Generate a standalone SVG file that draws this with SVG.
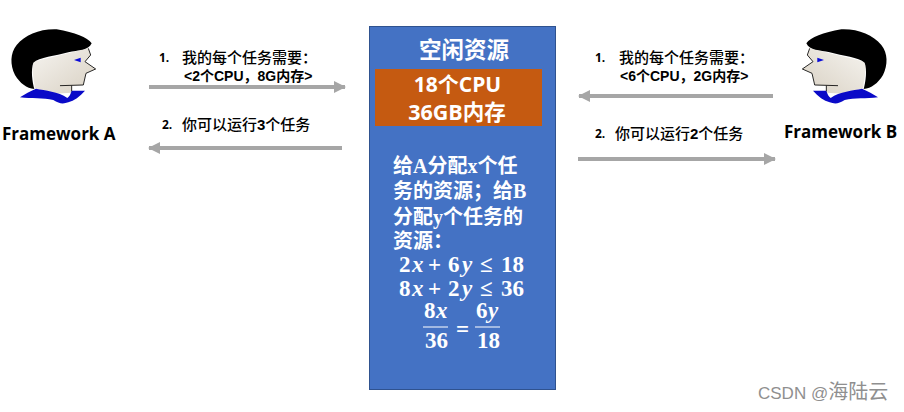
<svg xmlns="http://www.w3.org/2000/svg" width="904" height="412" viewBox="0 0 904 412">
<style>
text{font-family:"Open Sans","Noto Sans CJK SC",sans-serif;font-weight:700;fill:#000}
.sm{font-size:15px;font-weight:500;font-family:"Noto Sans CJK SC",sans-serif}
.b{font-family:"Liberation Sans","Noto Sans CJK SC",sans-serif;font-weight:700;font-size:14px}
.num{font-size:12px}
.fw{font-size:17px}
.w{fill:#fff;text-anchor:middle}
.cn{fill:#fff;font-size:20px;font-family:"Liberation Serif","Noto Sans CJK SC",serif;font-weight:700}
.m{fill:#fff;font-family:"Liberation Serif",serif;font-size:23px;font-weight:700}
.m tspan{font-style:italic}
.ln{stroke:#a6a6a6;stroke-width:4;fill:none}
</style>
<defs>
<marker id="ah" markerUnits="userSpaceOnUse" markerWidth="12" markerHeight="12" refX="11" refY="6" orient="auto-start-reverse"><path d="M0 0L12 6L0 12Z" fill="#a6a6a6"/></marker>
<linearGradient id="skin" x1="0" y1="0" x2="1" y2="1"><stop offset="0" stop-color="#f6f4f0"/><stop offset="1" stop-color="#d8d0c2"/></linearGradient>
<g id="head">
<path d="M100 125L265 85L272 105L255 125L287 147L258 160L250 195L215 197L215 218L150 222L105 205L97 150Z" fill="url(#skin)"/>
<path d="M60 232C75 222 90 214 108 206C135 212 175 214 202 234C208 230 212 222 215 212L255 212C240 230 222 242 205 247C190 252 178 252 160 240C130 234 95 236 60 232Z" fill="#0a0ac8"/>
<path d="M275 70C262 52 225 38 170 28C120 26 75 45 50 75C30 100 30 135 45 165C60 190 80 205 103 207C97 185 92 150 100 128C118 112 165 108 205 97C235 90 265 92 275 70Z" fill="#000"/>
<path d="M265 85L272 105L255 125L287 147L258 160L250 195L180 197M215 197V214" fill="none" stroke="#000" stroke-width="2.500"/>
<path d="M222 120L242 113V127Z" fill="#0a0ad8"/>
</g>
</defs>
<g id="framework-a"><use href="#head" transform="translate(0,20) scale(.3333)"/><text class="fw" x="2" y="140">Framework A</text></g>
<g id="framework-b"><use href="#head" transform="translate(898,20) scale(-.3333,.3333)"/><text class="fw" x="784" y="138">Framework B</text></g>
<g id="resources">
<rect x="369.500" y="26.500" width="186" height="363" fill="#4472c4" stroke="#2f528f"/>
<rect x="375" y="69" width="167" height="57" fill="#c55a11"/>
<text class="cn w" x="464" y="58" style="font-size:22.500px">空闲资源</text>
<text class="w" x="457.500" y="92" style="font-size:21px">18个CPU</text>
<text class="w" x="457" y="120" style="font-size:21.500px">36GB内存</text>
<text class="cn"><tspan x="393" y="173">给A分配x个任</tspan><tspan x="393" y="198">务的资源；给B</tspan><tspan x="393" y="224">分配y个任务的</tspan><tspan x="393" y="248">资源：</tspan></text>
<text class="m" x="399 412 428 448 462 480 501 512.500" y="272">2<tspan>x</tspan>+6<tspan>y</tspan>≤18</text>
<text class="m" x="399 412 428 448 462 480 501 512.500" y="296">8<tspan>x</tspan>+2<tspan>y</tspan>≤36</text>
<text class="m" x="424 436" y="318">8<tspan>x</tspan></text>
<text class="m" x="425 436.500" y="348">36</text>
<path d="M423 327H448M475 327H500" stroke="#fff" stroke-width="1.200"/>
<text class="m" x="456" y="337">=</text>
<text class="m" x="476 488" y="318">6<tspan>y</tspan></text>
<text class="m" x="477 488.500" y="348">18</text>
</g>
<g id="connectors">
<path class="ln" d="M149 87H345" marker-end="url(#ah)"/>
<path class="ln" d="M342 148H149" marker-end="url(#ah)"/>
<path class="ln" d="M773 96H579" marker-end="url(#ah)"/>
<path class="ln" d="M578 159H775" marker-end="url(#ah)"/>
</g>
<g id="labels">
<text class="num" x="159" y="62">1.</text><text class="sm" x="182" y="63">我的每个任务需要：</text>
<text class="b" x="184" y="81">&lt;2个CPU，8G内存&gt;</text>
<text class="num" x="162" y="129">2.</text><text class="sm" x="182" y="130">你可以运行<tspan font-family="Liberation Sans" font-weight="700">3</tspan>个任务</text>
<text class="num" x="595" y="62">1.</text><text class="sm" x="619" y="63">我的每个任务需要：</text>
<text class="b" x="620" y="81">&lt;6个CPU，2G内存&gt;</text>
<text class="num" x="595" y="138">2.</text><text class="sm" x="615" y="139">你可以运行<tspan font-family="Liberation Sans" font-weight="700">2</tspan>个任务</text>
</g>
<text x="758" y="399" style="font-family:'Liberation Sans','Noto Sans CJK SC',sans-serif;font-weight:400;font-size:17px;fill:#8f8f8f">CSDN @<tspan style="font-size:20px;font-family:'Noto Sans CJK SC',sans-serif">海陆云</tspan></text>
</svg>
